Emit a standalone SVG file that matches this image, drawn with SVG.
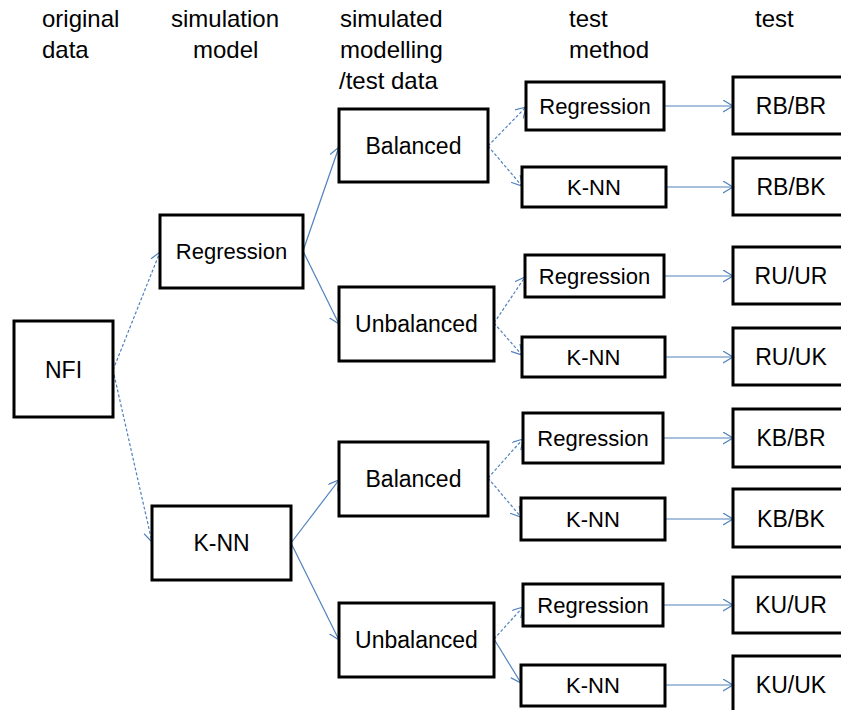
<svg xmlns="http://www.w3.org/2000/svg" width="841" height="710" viewBox="0 0 841 710">
<style>
  .box { fill: #ffffff; stroke: #000000; stroke-width: 3; }
  .lbl { font-family: "Liberation Sans", Arial, sans-serif; font-size: 22px; fill: #000000; text-anchor: middle; }
  .big { font-size: 23px; }
  .hdr { font-family: "Liberation Sans", Arial, sans-serif; font-size: 24px; fill: #000000; }
  .c { fill: none; stroke: #4f81bd; stroke-width: 1.2; marker-end: url(#ah); }
  .d { stroke-dasharray: 3 2; }
</style>
<defs>
  <marker id="ah" markerUnits="userSpaceOnUse" markerWidth="12" markerHeight="14" refX="10" refY="6" orient="auto">
    <polyline points="0,0 10,6 0,12" fill="none" stroke="#4f81bd" stroke-width="1.2"/>
  </marker>
</defs>
<rect width="841" height="710" fill="#ffffff"/>

<g id="headers">
  <text class="hdr" x="42" y="27">original</text>
  <text class="hdr" x="42" y="58">data</text>
  <text class="hdr" x="171" y="27">simulation</text>
  <text class="hdr" x="193" y="58">model</text>
  <text class="hdr" x="340" y="27">simulated</text>
  <text class="hdr" x="340" y="58">modelling</text>
  <text class="hdr" x="339" y="89">/test data</text>
  <text class="hdr" x="569" y="27">test</text>
  <text class="hdr" x="569" y="58">method</text>
  <text class="hdr" x="755" y="27">test</text>
</g>

<g id="connectors">
  <path class="c d" d="M113,370 L160,252"/>
  <path class="c d" d="M113,370 L152,542"/>
  <path class="c" d="M303,251 L339,147"/>
  <path class="c" d="M303,251 L339,324"/>
  <path class="c" d="M291,543 L339,480"/>
  <path class="c" d="M291,543 L339,640"/>
  <path class="c d" d="M488,146 L526,107"/>
  <path class="c d" d="M488,146 L522,186"/>
  <path class="c d" d="M494,323 L525,277"/>
  <path class="c d" d="M494,323 L522,355"/>
  <path class="c d" d="M488,478 L523,439"/>
  <path class="c d" d="M488,478 L521,517"/>
  <path class="c d" d="M494,639 L523,607"/>
  <path class="c" d="M494,639 L521,683"/>
  <path class="c" d="M664,106 L733,106"/>
  <path class="c" d="M666,187 L733,187"/>
  <path class="c" d="M664,276 L733,276"/>
  <path class="c" d="M665,357 L733,357"/>
  <path class="c" d="M663,438 L733,438"/>
  <path class="c" d="M665,519 L733,519"/>
  <path class="c" d="M663,605 L733,605"/>
  <path class="c" d="M665,685 L733,685"/>
</g>

<g id="nfi"><rect class="box" x="14" y="321" width="99" height="96"/><text class="lbl big" x="63.5" y="378">NFI</text></g>

<g id="sim-regression"><rect class="box" x="160" y="215" width="143" height="73"/><text class="lbl" x="231.5" y="259">Regression</text></g>
<g id="sim-knn"><rect class="box" x="152" y="506" width="139" height="74"/><text class="lbl big" x="221.5" y="551">K-NN</text></g>

<g id="rb"><rect class="box" x="339" y="109" width="149" height="73"/><text class="lbl big" x="413.5" y="154">Balanced</text></g>
<g id="ru"><rect class="box" x="339" y="287" width="155" height="74"/><text class="lbl big" x="416.5" y="332">Unbalanced</text></g>
<g id="kb"><rect class="box" x="339" y="442" width="149" height="74"/><text class="lbl big" x="413.5" y="487">Balanced</text></g>
<g id="ku"><rect class="box" x="339" y="603" width="155" height="74"/><text class="lbl big" x="416.5" y="648">Unbalanced</text></g>

<g id="rb-reg"><rect class="box" x="526" y="82" width="138" height="48"/><text class="lbl" x="595" y="114">Regression</text></g>
<g id="rb-knn"><rect class="box" x="522" y="167" width="144" height="40"/><text class="lbl" x="594" y="195">K-NN</text></g>
<g id="ru-reg"><rect class="box" x="525" y="255" width="139" height="42"/><text class="lbl" x="594.5" y="284">Regression</text></g>
<g id="ru-knn"><rect class="box" x="522" y="337" width="143" height="40"/><text class="lbl" x="593.5" y="365">K-NN</text></g>
<g id="kb-reg"><rect class="box" x="523" y="413" width="140" height="50"/><text class="lbl" x="593" y="446">Regression</text></g>
<g id="kb-knn"><rect class="box" x="521" y="498" width="144" height="42"/><text class="lbl" x="593" y="527">K-NN</text></g>
<g id="ku-reg"><rect class="box" x="523" y="584" width="140" height="42"/><text class="lbl" x="593" y="613">Regression</text></g>
<g id="ku-knn"><rect class="box" x="521" y="665" width="144" height="41"/><text class="lbl" x="593" y="693">K-NN</text></g>

<g id="rb-br"><rect class="box" x="733" y="77" width="118" height="57"/><text class="lbl big" x="791" y="114">RB/BR</text></g>
<g id="rb-bk"><rect class="box" x="733" y="158" width="118" height="57"/><text class="lbl big" x="791" y="195">RB/BK</text></g>
<g id="ru-ur"><rect class="box" x="733" y="247" width="118" height="57"/><text class="lbl big" x="791" y="284">RU/UR</text></g>
<g id="ru-uk"><rect class="box" x="733" y="328" width="118" height="57"/><text class="lbl big" x="791" y="365">RU/UK</text></g>
<g id="kb-br"><rect class="box" x="733" y="409" width="118" height="58"/><text class="lbl big" x="791" y="446">KB/BR</text></g>
<g id="kb-bk"><rect class="box" x="733" y="489" width="118" height="58"/><text class="lbl big" x="791" y="527">KB/BK</text></g>
<g id="ku-ur"><rect class="box" x="733" y="577" width="118" height="56"/><text class="lbl big" x="791" y="613">KU/UR</text></g>
<g id="ku-uk"><rect class="box" x="733" y="656" width="118" height="60"/><text class="lbl big" x="791" y="693">KU/UK</text></g>
</svg>
